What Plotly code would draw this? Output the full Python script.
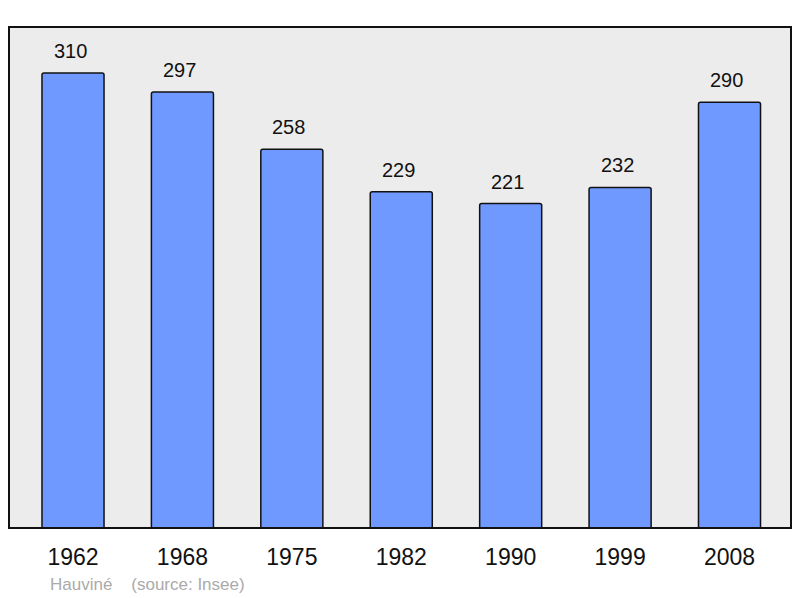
import plotly.graph_objects as go

years = ["1962", "1968", "1975", "1982", "1990", "1999", "2008"]
population = [310, 297, 258, 229, 221, 232, 290]
positions = list(range(len(years)))

fig = go.Figure()
fig.add_trace(go.Bar(
    x=positions, y=population, width=0.567,
    marker=dict(color="#7099ff", line=dict(color="#111111", width=1.5), cornerradius=2),
    hoverinfo="skip",
))
for xv, yv in zip(positions, population):
    fig.add_annotation(x=xv, y=yv, text=str(yv), showarrow=False, yanchor="bottom", yshift=9, xshift=-3,
                       font=dict(family="Liberation Sans, Arial", size=20, color="#111111"))

fig.add_shape(type="rect", xref="paper", yref="paper", x0=0, y0=0, x1=1, y1=1,
              line=dict(color="#111111", width=2), layer="above")
fig.add_annotation(xref="paper", yref="paper", x=0.0499, y=-0.112, xanchor="left", yanchor="middle",
                   text="Hauviné&nbsp;&nbsp;&nbsp;&nbsp;(source: Insee)", showarrow=False,
                   font=dict(family="Liberation Sans, Arial", size=17, color="#aaaaaa"))

# page body has an 8px margin, so the figure is sized/placed to compensate
fig.update_layout(
    width=792, height=590,
    margin=dict(l=1, r=9, t=19, b=70),
    paper_bgcolor="white", plot_bgcolor="#ececec",
    showlegend=False,
    xaxis=dict(range=[-0.585, 6.562], tickvals=positions, ticktext=years, showgrid=False,
               zeroline=False, ticks="outside", ticklen=8, tickcolor="rgba(0,0,0,0)",
               tickfont=dict(family="Liberation Sans, Arial", size=23, color="#111111")),
    yaxis=dict(range=[0, 341.3], showgrid=False, zeroline=False, showticklabels=False),
)
fig.write_html("out.html")
